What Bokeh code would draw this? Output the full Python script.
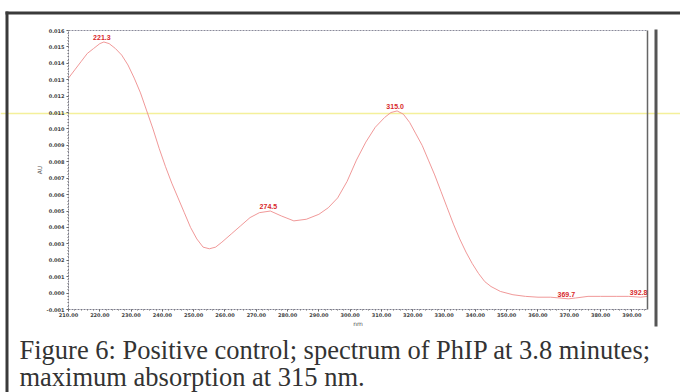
from bokeh.plotting import figure
from bokeh.models import LinearAxis, FixedTicker, NumeralTickFormatter, ColumnDataSource
from bokeh.core.properties import value
from bokeh.embed import file_html
from bokeh.resources import INLINE

# ---- data ----
wavelength = [210, 212, 214, 216, 218, 220, 221.3, 223, 225, 227, 229, 231, 233, 235,
              237, 239, 241, 243, 245, 247, 249, 251, 253, 255, 257, 259, 262, 265,
              268, 271, 274.5, 278, 282, 286, 290, 293, 296, 299, 302, 305, 308, 311,
              313, 315, 317, 319, 321, 323, 325, 327, 329, 331, 333, 335, 337, 339,
              341, 343, 345, 348, 352, 356, 360, 364, 367, 369.7, 372, 376, 380, 385,
              389, 392.8, 395]
absorbance = [0.0131, 0.0136, 0.0141, 0.0146, 0.0149, 0.0152, 0.0153, 0.0152, 0.0149,
              0.0145, 0.0139, 0.0131, 0.0122, 0.0111, 0.0100, 0.0088, 0.0077, 0.0067,
              0.0058, 0.0049, 0.0040, 0.0033, 0.0028, 0.0027, 0.0028, 0.0031, 0.0036,
              0.0041, 0.0046, 0.0049, 0.0050, 0.0047, 0.0044, 0.0045, 0.0048, 0.0052,
              0.0058, 0.0068, 0.0081, 0.0092, 0.0101, 0.0107, 0.0110, 0.0111, 0.0109,
              0.0104, 0.0097, 0.0090, 0.0081, 0.0072, 0.0062, 0.0052, 0.0042, 0.0033,
              0.0025, 0.0018, 0.0012, 0.0007, 0.0004, 0.0001, -0.0001, -0.0002,
              -0.00025, -0.00025, -0.0003, -0.00035, -0.0003, -0.0002, -0.0002,
              -0.0002, -0.0002, -0.00025, -0.0002]
peak_x = [221.3, 274.5, 315.0, 369.7, 392.8]
peak_y = [0.0153, 0.0050, 0.0111, -0.00035, -0.00025]
peak_text = ["221.3", "274.5", "315.0", "369.7", "392.8"]
x_ticks = [210, 220, 230, 240, 250, 260, 270, 280, 290, 300, 310, 320, 330, 340,
           350, 360, 370, 380, 390]
y_ticks = [-0.001, 0.000, 0.001, 0.002, 0.003, 0.004, 0.005, 0.006, 0.007, 0.008,
           0.009, 0.010, 0.011, 0.012, 0.013, 0.014, 0.015, 0.016]
caption_lines = ["Figure 6: Positive control; spectrum of PhIP at 3.8 minutes;",
                 "maximum absorption at 315 nm."]

W, H = 680, 392

# ---------- page background: frame lines, yellow marker line, caption ----------
deco = figure(width=W, height=H, x_range=(0, W), y_range=(H, 0),
              output_backend="svg", toolbar_location=None, min_border=0,
              x_axis_location=None, y_axis_location=None)
deco.outline_line_color = None
deco.xgrid.visible = False
deco.ygrid.visible = False
deco.background_fill_color = "white"
deco.border_fill_color = "white"
deco.quad(left=[0], right=[W], top=[112.3], bottom=[113.8], fill_color="#f4f09a",
          line_color=None)
deco.quad(left=[5, 5, 654], right=[W, 8, 657], top=[11, 11, 29], bottom=[14, H, 326],
          fill_color=["#3a3a3a", "#3a3a3a", "#555555"], line_color=None)
deco.text(x=[19, 19], y=[349, 376], text=caption_lines, text_baseline="alphabetic",
          text_font=value("Liberation Serif"), text_font_size="26.5px",
          text_color="#333333")

# ---------- the spectrum ----------
p = figure(width=W, height=H, x_range=(210, 395), y_range=(-0.001, 0.016),
           output_backend="svg", toolbar_location=None,
           min_border_left=68, min_border_right=33, min_border_top=30,
           min_border_bottom=83, x_axis_label="nm", y_axis_label="AU")
p.background_fill_color = None
p.border_fill_color = None
p.outline_line_color = None
p.xgrid.visible = False
p.ygrid.visible = False
p.styles = {"position": "absolute", "top": "0px", "left": "0px"}

for ax in (p.xaxis[0], p.yaxis[0]):
    ax.axis_line_color = "#7a7a8a"
    ax.axis_line_dash = "2 1"
    ax.major_tick_line_color = "#555"
    ax.minor_tick_line_color = "#777"
    ax.major_tick_in = 0
    ax.major_tick_out = 2
    ax.minor_tick_in = 0
    ax.minor_tick_out = 1
    ax.major_label_text_font = "DejaVu Sans"
    ax.major_label_text_font_size = "5px"
    ax.major_label_text_color = "#444"
    ax.major_label_text_font_style = "bold"
    ax.axis_label_text_font = "DejaVu Sans"
    ax.axis_label_text_font_size = "6px"
    ax.axis_label_text_font_style = "normal"
    ax.axis_label_text_color = "#555"

p.xaxis[0].ticker = FixedTicker(ticks=x_ticks, minor_ticks=list(range(210, 396, 2)))
p.xaxis[0].formatter = NumeralTickFormatter(format="0.00")
p.xaxis[0].major_label_standoff = 1
p.xaxis[0].axis_label_standoff = 0
p.yaxis[0].ticker = FixedTicker(ticks=y_ticks,
                                minor_ticks=[i * 0.0002 - 0.001 for i in range(86)])
p.yaxis[0].formatter = NumeralTickFormatter(format="0.000")
p.yaxis[0].major_label_standoff = 2
p.yaxis[0].axis_label_standoff = 1

top_ax = LinearAxis(ticker=FixedTicker(ticks=[]), axis_line_color="#8a8a9a",
                    axis_line_dash="2 1", major_tick_line_color=None,
                    minor_tick_line_color=None, major_label_text_font_size="0px")
p.add_layout(top_ax, "above")
right_ax = LinearAxis(ticker=FixedTicker(ticks=[]), axis_line_color="#666",
                      axis_line_width=1.5, major_tick_line_color=None,
                      minor_tick_line_color=None, major_label_text_font_size="0px")
p.add_layout(right_ax, "right")

src = ColumnDataSource(dict(x=wavelength, y=absorbance))
p.line("x", "y", source=src, line_color="#ee8c8c", line_width=0.9)

lab = ColumnDataSource(dict(x=peak_x, y=peak_y, t=peak_text))
p.text("x", "y", text="t", source=lab, text_align="center",
       text_baseline="bottom", x_offset=-2, y_offset=-2, text_color="#d8282a",
       text_font=value("Liberation Sans"), text_font_size="7px",
       text_font_style="bold")

open("out.html", "w").write(file_html([deco, p], INLINE))
